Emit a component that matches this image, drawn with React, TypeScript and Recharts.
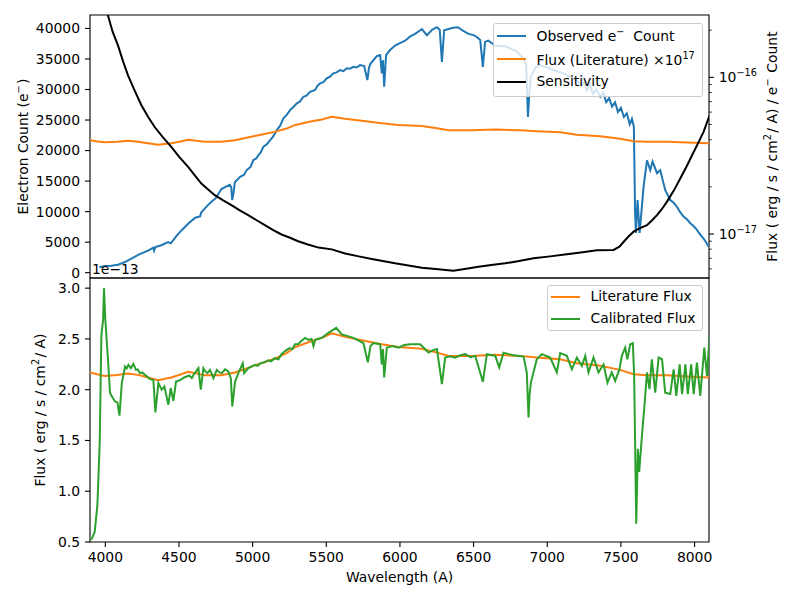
import React from 'react';
import { LineChart, Line, XAxis, YAxis, Legend, ReferenceArea } from 'recharts';

const FONT = '"DejaVu Sans", sans-serif';
const FS = 13.9;
const BLUE = '#1f77b4';
const ORANGE = '#ff7f0e';
const GREEN = '#2ca02c';

// wavelength (A) -> electrons
const observedCount: [number, number][] = [
  [3960, 900], [3996, 1100], [4040, 1150], [4086, 1300], [4130, 1700], [4177, 2300],
  [4230, 3000], [4290, 3600], [4325, 4100], [4331, 3600], [4340, 4200], [4380, 4500],
  [4426, 5000], [4445, 4800], [4482, 6000], [4520, 7000], [4562, 8000], [4610, 9000],
  [4643, 9200], [4652, 9900], [4690, 10900], [4720, 11600], [4750, 12200], [4788, 13700],
  [4820, 14100], [4845, 14400], [4855, 14000], [4861, 11900], [4870, 13000], [4879, 14800],
  [4915, 15700], [4940, 16000], [4960, 16800], [4985, 17300], [5005, 18450], [5025, 18700],
  [5039, 19270], [5055, 19700], [5073, 20630], [5095, 21000], [5119, 21720], [5140, 22300],
  [5164, 23360], [5185, 24000], [5209, 25270], [5230, 25800], [5254, 26630], [5275, 27100],
  [5300, 27730], [5320, 28000], [5345, 28810], [5365, 29000], [5390, 29630], [5424, 29910],
  [5440, 30600], [5458, 31000], [5480, 31200], [5503, 31820], [5525, 32100], [5548, 32640],
  [5570, 32800], [5594, 33180], [5615, 33000], [5639, 33460], [5660, 33400], [5684, 33720],
  [5705, 33600], [5730, 34000], [5757, 33840], [5779, 31540], [5790, 33600], [5802, 34280],
  [5843, 35470], [5866, 35640], [5877, 32640], [5885, 34800], [5893, 30450], [5906, 35640],
  [5933, 36460], [5967, 37200], [6000, 37600], [6035, 38000], [6070, 38700], [6103, 39100],
  [6149, 39900], [6183, 38900], [6220, 39800], [6251, 40200], [6270, 39800], [6285, 34500],
  [6300, 39700], [6330, 39900], [6360, 40100], [6393, 40200], [6430, 39600], [6465, 39100],
  [6500, 38900], [6522, 38600], [6545, 38100], [6563, 33700], [6578, 37800], [6600, 38000],
  [6647, 37200], [6700, 37100], [6726, 37000], [6760, 36600], [6794, 36200], [6830, 35300],
  [6857, 34000], [6869, 25500], [6880, 30000], [6889, 32100], [6920, 33600], [6952, 34000],
  [7000, 33600], [7042, 33200], [7090, 32800], [7133, 32400], [7170, 31900], [7201, 31500],
  [7230, 30600], [7250, 31200], [7269, 29900], [7290, 30800], [7310, 29300], [7335, 30000],
  [7360, 28800], [7380, 29500], [7400, 27900], [7420, 28600], [7440, 27200], [7460, 27900],
  [7480, 26300], [7500, 27000], [7520, 25500], [7540, 26100], [7560, 24300], [7575, 25200],
  [7588, 23900], [7596, 10000], [7602, 6500], [7613, 11900], [7627, 6500], [7654, 14100],
  [7677, 18400], [7699, 16800], [7715, 18200], [7745, 16300], [7767, 16800], [7801, 13500],
  [7835, 11900], [7860, 11400], [7880, 10800], [7900, 10000], [7925, 9200], [7950, 8700],
  [7971, 8100], [7995, 7600], [8016, 7000], [8040, 6200], [8061, 5600], [8080, 4900],
  [8095, 4300],
];

// wavelength (A) -> literature flux, 1e-13 erg/s/cm^2/A
const literatureFlux: [number, number][] = [
  [3896, 2.17], [3950, 2.15], [3996, 2.136], [4080, 2.145], [4154, 2.159], [4222, 2.146],
  [4290, 2.12], [4358, 2.094], [4448, 2.12], [4510, 2.15], [4562, 2.176], [4620, 2.16],
  [4675, 2.143], [4788, 2.143], [4879, 2.17], [4950, 2.205], [5015, 2.24], [5080, 2.27],
  [5150, 2.306], [5230, 2.36], [5290, 2.42], [5401, 2.48], [5470, 2.51], [5537, 2.555],
  [5628, 2.52], [5741, 2.487], [5877, 2.447], [5990, 2.42], [6149, 2.404], [6240, 2.37],
  [6330, 2.333], [6488, 2.333], [6647, 2.343], [6816, 2.333], [6929, 2.316], [7088, 2.3],
  [7201, 2.26], [7360, 2.235], [7495, 2.195], [7586, 2.153], [7677, 2.143], [7813, 2.143],
  [7948, 2.13], [8100, 2.12],
];

// wavelength (A) -> sensitivity, erg/s/cm^2/A per electron
const sensitivity: [number, number][] = [
  [3960, 4.5e-16], [4018, 2.48e-16], [4050, 1.95e-16], [4086, 1.6e-16], [4120, 1.27e-16],
  [4154, 1.03e-16], [4200, 8.2e-17], [4245, 6.64e-17], [4290, 5.6e-17], [4335, 4.82e-17],
  [4390, 4.15e-17], [4448, 3.6e-17], [4500, 3.12e-17], [4562, 2.68e-17], [4610, 2.35e-17],
  [4652, 2.1e-17], [4700, 1.92e-17], [4743, 1.77e-17], [4800, 1.64e-17], [4856, 1.53e-17],
  [4910, 1.42e-17], [4970, 1.32e-17], [5030, 1.22e-17], [5083, 1.14e-17], [5140, 1.06e-17],
  [5196, 9.93e-18], [5250, 9.5e-18], [5309, 9.0e-18], [5370, 8.6e-18], [5447, 8.19e-18],
  [5537, 7.98e-18], [5628, 7.52e-18], [5720, 7.2e-18], [5809, 6.93e-18], [5967, 6.5e-18],
  [6149, 6.1e-18], [6260, 5.95e-18], [6363, 5.83e-18], [6450, 6.0e-18], [6533, 6.19e-18],
  [6620, 6.35e-18], [6714, 6.5e-18], [6800, 6.7e-18], [6907, 7.0e-18], [7020, 7.2e-18],
  [7133, 7.42e-18], [7240, 7.65e-18], [7337, 7.87e-18], [7450, 7.91e-18], [7490, 8.3e-18],
  [7519, 8.93e-18], [7550, 9.6e-18], [7586, 1.035e-17], [7630, 1.09e-17], [7677, 1.14e-17],
  [7710, 1.22e-17], [7745, 1.32e-17], [7780, 1.45e-17], [7813, 1.61e-17], [7860, 1.9e-17],
  [7903, 2.26e-17], [7950, 2.75e-17], [7994, 3.34e-17], [8030, 3.9e-17], [8061, 4.49e-17],
  [8102, 5.73e-17],
];

// wavelength (A) -> calibrated flux, 1e-13 erg/s/cm^2/A
const calibratedFlux: [number, number][] = [
  [3896, 0.52], [3910, 0.535], [3928, 0.6], [3946, 0.86], [3962, 1.48], [3973, 2.53],
  [3985, 2.69], [3991, 3.0], [4000, 2.69], [4018, 2.3], [4032, 1.967], [4050, 1.92],
  [4066, 1.884], [4082, 1.875], [4096, 1.744], [4112, 2.065], [4134, 2.228], [4145, 2.21],
  [4157, 2.244], [4173, 2.212], [4190, 2.254], [4208, 2.195], [4220, 2.2], [4235, 2.163],
  [4250, 2.17], [4269, 2.146], [4285, 2.13], [4303, 2.104], [4326, 2.097], [4340, 1.776],
  [4360, 2.065], [4383, 1.999], [4401, 2.031], [4428, 1.852], [4444, 2.015], [4462, 1.89],
  [4480, 2.08], [4500, 2.09], [4519, 2.104], [4535, 2.12], [4553, 2.13], [4570, 2.14],
  [4587, 2.114], [4600, 2.15], [4616, 2.18], [4632, 2.212], [4648, 2.0], [4666, 2.212],
  [4680, 2.18], [4693, 2.163], [4711, 2.195], [4734, 2.114], [4757, 2.195], [4775, 2.17],
  [4791, 2.163], [4813, 2.2], [4835, 2.18], [4852, 2.114], [4862, 1.835], [4881, 2.08],
  [4903, 2.163], [4933, 2.26], [4942, 2.163], [4971, 2.212], [4995, 2.23], [5017, 2.244],
  [5035, 2.235], [5051, 2.26], [5080, 2.27], [5105, 2.29], [5125, 2.28], [5150, 2.31],
  [5175, 2.3], [5196, 2.35], [5220, 2.38], [5250, 2.41], [5270, 2.4], [5288, 2.447],
  [5310, 2.45], [5330, 2.48], [5356, 2.51], [5380, 2.49], [5400, 2.5], [5413, 2.43],
  [5425, 2.49], [5440, 2.5], [5470, 2.51], [5515, 2.56], [5567, 2.61], [5605, 2.545],
  [5640, 2.53], [5684, 2.51], [5752, 2.46], [5782, 2.27], [5800, 2.43], [5820, 2.46],
  [5866, 2.447], [5877, 2.25], [5885, 2.4], [5893, 2.12], [5911, 2.414], [5950, 2.43],
  [5990, 2.414], [6030, 2.44], [6069, 2.447], [6137, 2.447], [6170, 2.4], [6194, 2.365],
  [6225, 2.39], [6251, 2.4], [6285, 2.055], [6307, 2.316], [6340, 2.33], [6375, 2.316],
  [6410, 2.34], [6443, 2.35], [6480, 2.32], [6511, 2.333], [6563, 2.078], [6590, 2.35],
  [6625, 2.34], [6647, 2.333], [6674, 2.22], [6703, 2.365], [6740, 2.35], [6771, 2.34],
  [6839, 2.326], [6861, 2.17], [6873, 1.727], [6880, 1.95], [6889, 2.07], [6929, 2.3],
  [6963, 2.35], [7020, 2.316], [7065, 2.17], [7088, 2.36], [7133, 2.333], [7167, 2.2],
  [7201, 2.316], [7235, 2.235], [7258, 2.333], [7280, 2.17], [7314, 2.316], [7348, 2.17],
  [7382, 2.25], [7409, 2.07], [7438, 2.17], [7461, 2.087], [7490, 2.2], [7506, 2.333],
  [7529, 2.414], [7544, 2.3], [7563, 2.447], [7581, 2.46], [7590, 2.136], [7604, 0.68],
  [7615, 1.417], [7624, 1.19], [7643, 1.55], [7658, 1.81], [7677, 2.17], [7694, 2.006],
  [7710, 2.3], [7733, 1.97], [7756, 2.316], [7779, 2.3], [7801, 1.97], [7835, 1.957],
  [7858, 2.2], [7876, 1.94], [7899, 2.25], [7915, 1.957], [7938, 2.25], [7954, 1.957],
  [7977, 2.25], [7994, 1.957], [8016, 2.267], [8039, 1.94], [8066, 2.414], [8084, 2.136],
  [8102, 2.53],
];

const waveTicks = [4000, 4500, 5000, 5500, 6000, 6500, 7000, 7500, 8000];
const countTicks = [0, 5000, 10000, 15000, 20000, 25000, 30000, 35000, 40000];
const sensTicks = [
  6e-18, 7e-18, 8e-18, 9e-18, 1e-17, 2e-17, 3e-17, 4e-17, 5e-17, 6e-17, 7e-17, 8e-17, 9e-17,
  1e-16, 2e-16,
];
const fluxTicks = [0.5, 1.0, 1.5, 2.0, 2.5, 3.0];

const topLegendOrder = ['observed', 'litScaled', 'sens'];
const bottomLegendOrder = ['lit', 'cal'];

const X_DOMAIN: [number, number] = [3896, 8098];
const COUNT_DOMAIN: [number, number] = [-870, 42200];
const SENS_DOMAIN: [number, number] = [5.24e-18, 2.5e-16];
const FLUX_DOMAIN: [number, number] = [0.5, 3.1];

const toPoints = (pairs: [number, number][], scale = 1) => pairs.map(([w, v]) => ({ w, v: v * scale }));

const countData = toPoints(observedCount);
const litScaledData = toPoints(literatureFlux, 1e4); // flux x 1e17 in 1e-13 units
const sensData = toPoints(sensitivity);
const litData = toPoints(literatureFlux);
const calData = toPoints(calibratedFlux);

const tickStyle = { fontSize: FS, fill: '#000', fontFamily: FONT };
const axisStroke = { stroke: '#000', strokeWidth: 1.1 };

const sup = (s: string) => (
  <>
    <tspan dy={-5} fontSize={FS * 0.7}>{s}</tspan>
    <tspan dy={5}>{'\u200a'}</tspan>
  </>
);

function LogTick(props: any) {
  const { x, y, payload } = props;
  const exp = Math.log10(payload.value);
  const major = Math.abs(exp - Math.round(exp)) < 1e-6;
  return (
    <g>
      <line x1={x} x2={x + (major ? 4.9 : 2.8)} y1={y} y2={y} stroke="#000" strokeWidth={major ? 1.1 : 0.8} />
      {major && (
        <text x={x + 9.7} y={y} dy="0.36em" fontSize={FS} fontFamily={FONT} fill="#000">
          10
          <tspan dy={-6} fontSize={FS * 0.7}>{'\u2212' + Math.abs(Math.round(exp))}</tspan>
        </text>
      )}
    </g>
  );
}

function RotatedTitle({ cx, cy, children }: { cx: number; cy: number; children: React.ReactNode }) {
  return (
    <text
      x={cx}
      y={cy}
      transform={`rotate(-90 ${cx} ${cy})`}
      textAnchor="middle"
      dominantBaseline="central"
      fontSize={FS}
      fontFamily={FONT}
      fill="#000"
    >
      {children}
    </text>
  );
}

const legendLabels: Record<string, React.ReactNode> = {
  observed: (
    <>
      Observed e<sup style={{ fontSize: FS * 0.7 }}>{'\u2212'}</sup>&nbsp; Count
    </>
  ),
  litScaled: (
    <>
      Flux (Literature) ×10<sup style={{ fontSize: FS * 0.7 }}>17</sup>
    </>
  ),
  sens: 'Sensitivity',
  lit: 'Literature Flux',
  cal: 'Calibrated Flux',
};

// legend box in the upper right of a panel, entries kept in plotting order
const makeLegend = (order: string[], rowHeight: number) => (props: any) => {
  const payload = [...(props.payload || [])].sort(
    (a: any, b: any) => order.indexOf(a.value) - order.indexOf(b.value)
  );
  return (
    <div
      style={{
        boxSizing: 'border-box',
        width: '100%',
        height: '100%',
        background: 'rgba(255,255,255,0.8)',
        border: '1px solid #cccccc',
        borderRadius: 3,
        paddingTop: 0.5,
        fontFamily: FONT,
        fontSize: FS,
        color: '#000',
      }}
    >
      {payload.map((entry: any) => (
        <div key={entry.value} style={{ display: 'flex', alignItems: 'center', height: rowHeight, lineHeight: 1 }}>
          <span style={{ width: 29, height: 2, marginLeft: 3, marginRight: 11, background: entry.color }} />
          <span style={{ whiteSpace: 'nowrap' }}>{legendLabels[entry.value] ?? entry.value}</span>
        </div>
      ))}
    </div>
  );
};

function TopPanel() {
  return (
    <LineChart width={800} height={290} margin={{ top: 15, right: 0, bottom: 12, left: 0 }}>
      <XAxis type="number" dataKey="w" domain={X_DOMAIN} allowDataOverflow hide />
      <YAxis
        yAxisId="left"
        type="number"
        width={90}
        domain={COUNT_DOMAIN}
        allowDataOverflow
        ticks={countTicks}
        interval={0}
        tick={tickStyle}
        tickSize={5}
        tickMargin={5}
        tickLine={axisStroke}
        axisLine={false}
        label={{
          content: (p: any) => (
            <RotatedTitle cx={p.viewBox.x + 22.7} cy={p.viewBox.y + p.viewBox.height / 2}>
              Electron Count (e{sup('\u2212')})
            </RotatedTitle>
          ),
        }}
      />
      <YAxis
        yAxisId="right"
        orientation="right"
        type="number"
        scale="log"
        width={91}
        domain={SENS_DOMAIN}
        allowDataOverflow
        ticks={sensTicks}
        interval={0}
        tick={<LogTick />}
        tickSize={0}
        tickMargin={0}
        tickLine={false}
        axisLine={false}
        label={{
          content: (p: any) => (
            <RotatedTitle cx={p.viewBox.x + 62.7} cy={p.viewBox.y + p.viewBox.height / 2}>
              Flux ( erg / s / cm{sup('2')}/ A) / e{sup('\u2212')} Count
            </RotatedTitle>
          ),
        }}
      />
      <ReferenceArea
        yAxisId="left"
        x1={X_DOMAIN[0]}
        x2={X_DOMAIN[1]}
        y1={COUNT_DOMAIN[0]}
        y2={COUNT_DOMAIN[1]}
        fill="none"
        stroke="#000"
        strokeWidth={1.1}
        fillOpacity={0}
      />
      <Line yAxisId="left" data={countData} dataKey="v" name="observed" stroke={BLUE} strokeWidth={2} dot={false} isAnimationActive={false} />
      <Line yAxisId="left" data={litScaledData} dataKey="v" name="litScaled" stroke={ORANGE} strokeWidth={2} dot={false} isAnimationActive={false} />
      <Line yAxisId="right" data={sensData} dataKey="v" name="sens" stroke="#000" strokeWidth={2} dot={false} isAnimationActive={false} />
      <Legend
        layout="vertical"
        align="center"
        verticalAlign="middle"
        content={makeLegend(topLegendOrder, 23.3)}
        wrapperStyle={{ left: 492.5, top: 22.5, width: 210, height: 74 }}
      />
    </LineChart>
  );
}

function BottomPanel() {
  return (
    <LineChart width={800} height={342} margin={{ top: 20, right: 91, bottom: 0, left: 0 }}>
      <XAxis
        type="number"
        dataKey="w"
        domain={X_DOMAIN}
        allowDataOverflow
        ticks={waveTicks}
        interval={0}
        height={58}
        tick={tickStyle}
        tickSize={5}
        tickMargin={5}
        tickLine={axisStroke}
        axisLine={false}
        label={{
          content: (p: any) => (
            <text
              x={p.viewBox.x + p.viewBox.width / 2}
              y={p.viewBox.y + 35}
              textAnchor="middle"
              dominantBaseline="central"
              fontSize={FS}
              fontFamily={FONT}
              fill="#000"
            >
              Wavelength (A)
            </text>
          ),
        }}
      />
      <YAxis
        type="number"
        width={90}
        domain={FLUX_DOMAIN}
        allowDataOverflow
        ticks={fluxTicks}
        interval={0}
        tickFormatter={(v: number) => v.toFixed(1)}
        tick={tickStyle}
        tickSize={5}
        tickMargin={5}
        tickLine={axisStroke}
        axisLine={false}
        label={{
          content: (p: any) => (
            <g>
              <RotatedTitle cx={p.viewBox.x + 40} cy={p.viewBox.y + p.viewBox.height / 2}>
                Flux ( erg / s / cm{sup('2')}/ A)
              </RotatedTitle>
              <text x={p.viewBox.x + p.viewBox.width + 2} y={p.viewBox.y - 4} fontSize={FS} fontFamily={FONT} fill="#000">
                1e{'\u2212'}13
              </text>
            </g>
          ),
        }}
      />
      <ReferenceArea
        x1={X_DOMAIN[0]}
        x2={X_DOMAIN[1]}
        y1={FLUX_DOMAIN[0]}
        y2={FLUX_DOMAIN[1]}
        fill="none"
        stroke="#000"
        strokeWidth={1.1}
        fillOpacity={0}
      />
      <Line data={litData} dataKey="v" name="lit" stroke={ORANGE} strokeWidth={2} dot={false} isAnimationActive={false} />
      <Line data={calData} dataKey="v" name="cal" stroke={GREEN} strokeWidth={2} dot={false} isAnimationActive={false} />
      <Legend
        layout="vertical"
        align="center"
        verticalAlign="middle"
        content={makeLegend(bottomLegendOrder, 21.6)}
        wrapperStyle={{ left: 546.5, top: 27, width: 156, height: 46 }}
      />
    </LineChart>
  );
}

export default function App() {
  return (
    <div style={{ position: 'absolute', left: 0, top: 0, width: 800, height: 600, background: '#fff', fontFamily: FONT }}>
      <div style={{ position: 'absolute', left: 0, top: 0 }}>
        <TopPanel />
      </div>
      <div style={{ position: 'absolute', left: 0, top: 258 }}>
        <BottomPanel />
      </div>
    </div>
  );
}
